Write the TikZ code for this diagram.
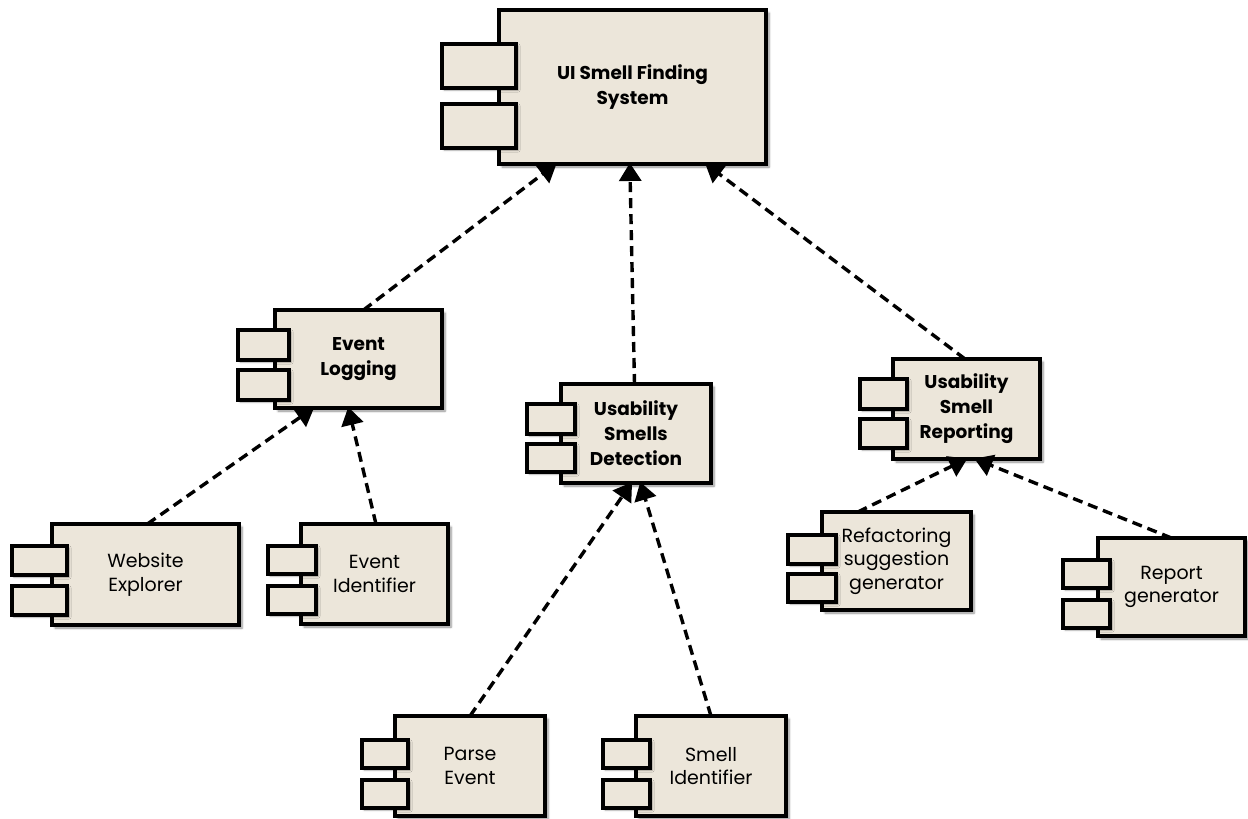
\documentclass[tikz,border=0pt]{standalone}
\usepackage{fontspec}
\setmainfont{Poppins}
\usetikzlibrary{arrows.meta,calc,shadows.blur}
\definecolor{compfill}{HTML}{ECE6DA}
\tikzset{
  body/.style={draw=black, line width=3.8pt, fill=compfill, align=center,
    inner sep=0pt, outer sep=0pt,
    blur shadow={shadow xshift=3pt, shadow yshift=-3pt, shadow blur steps=6, shadow opacity=45}},
  port/.style={draw=black, line width=3.8pt, fill=compfill, inner sep=0pt, outer sep=0pt,
    blur shadow={shadow xshift=2pt, shadow yshift=-2pt, shadow blur steps=5, shadow opacity=35}},
  dep/.style={draw=black, line width=3.4pt, dash pattern=on 10pt off 6pt,
    -{Triangle[width=22pt,length=18pt]}, shorten >=-1pt},
  boldtxt/.style={font=\fontsize{18.5}{25}\selectfont\bfseries},
  plaintxt/.style={font=\fontsize{19}{23.5}\selectfont},
}
% body box: name, x1, y1, x2, y2, style, text
\newcommand\compbody[7]{%
  \node[body,#6, minimum width={#4-#2}, minimum height={#5-#3}]
    (#1) at ({(#2+#4)/2},{(#3+#5)/2}) {#7};}
% port box: name, x1, y1, x2, y2
\newcommand\compport[5]{%
  \node[port, minimum width={#4-#2}, minimum height={#5-#3}]
    (#1) at ({(#2+#4)/2},{(#3+#5)/2}) {};}
\begin{document}
\begin{tikzpicture}[x=1pt,y=-1pt]
\useasboundingbox (0,0) rectangle (1248,819);

% top-level system
\compbody{ui}{499}{10}{766}{164}{boldtxt}{UI Smell Finding\\System}
\compport{uip1}{442}{44}{516}{88}
\compport{uip2}{442}{104}{516}{148}

% subsystems
\compbody{el}{275}{310}{442}{408}{boldtxt}{Event\\Logging}
\compport{elp1}{238}{330}{289}{360}
\compport{elp2}{238}{370}{289}{400}

\compbody{usd}{561}{384}{711}{483}{boldtxt}{Usability\\Smells\\Detection}
\compport{usdp1}{527}{404}{575}{434}
\compport{usdp2}{527}{444}{575}{472}

\compbody{usr}{893}{359}{1040}{459}{boldtxt}{Usability\\Smell\\Reporting}
\compport{usrp1}{860}{379}{907}{409}
\compport{usrp2}{860}{419}{907}{448}

% leaf components
\compbody{we}{52}{524}{239}{625}{plaintxt}{Website\\Explorer}
\compport{wep1}{12}{546}{67}{575}
\compport{wep2}{12}{586}{67}{615}

\compbody{ei}{301}{524}{448}{624}{plaintxt}{Event\\Identifier}
\compport{eip1}{268}{546}{316}{574}
\compport{eip2}{268}{586}{316}{614}

\compbody{rs}{822}{512}{971}{610}{plaintxt}{Refactoring\\suggestion\\generator}
\compport{rsp1}{788}{535}{836}{564}
\compport{rsp2}{788}{574}{836}{602}

\compbody{rg}{1098}{538}{1245}{636}{plaintxt}{Report\\generator}
\compport{rgp1}{1063}{560}{1110}{588}
\compport{rgp2}{1063}{600}{1110}{628}

\compbody{pe}{395}{716}{545}{816}{plaintxt}{Parse\\Event}
\compport{pep1}{362}{740}{408}{768}
\compport{pep2}{362}{780}{408}{808}

\compbody{si}{636}{716}{786}{816}{plaintxt}{Smell\\Identifier}
\compport{sip1}{603}{740}{650}{768}
\compport{sip2}{603}{780}{650}{808}

% dependencies
\draw[dep] ($(el.north west)!0.53!(el.north east)$) -- ($(ui.south west)!0.213!(ui.south east)$);
\draw[dep] ($(usd.north west)!0.49!(usd.north east)$) -- ($(ui.south west)!0.49!(ui.south east)$);
\draw[dep] ($(usr.north west)!0.49!(usr.north east)$) -- ($(ui.south west)!0.775!(ui.south east)$);

\draw[dep] ($(we.north west)!0.51!(we.north east)$) -- ($(el.south west)!0.23!(el.south east)$);
\draw[dep] ($(ei.north west)!0.51!(ei.north east)$) -- ($(el.south west)!0.44!(el.south east)$);

\draw[dep] ($(pe.north west)!0.5!(pe.north east)$) -- ($(usd.south west)!0.47!(usd.south east)$);
\draw[dep] ($(si.north west)!0.5!(si.north east)$) -- ($(usd.south west)!0.53!(usd.south east)$);

\draw[dep] ($(rs.north west)!0.24!(rs.north east)$) -- ($(usr.south west)!0.5!(usr.south east)$);
\draw[dep] ($(rg.north west)!0.5!(rg.north east)$) -- ($(usr.south west)!0.56!(usr.south east)$);
\end{tikzpicture}
\end{document}
